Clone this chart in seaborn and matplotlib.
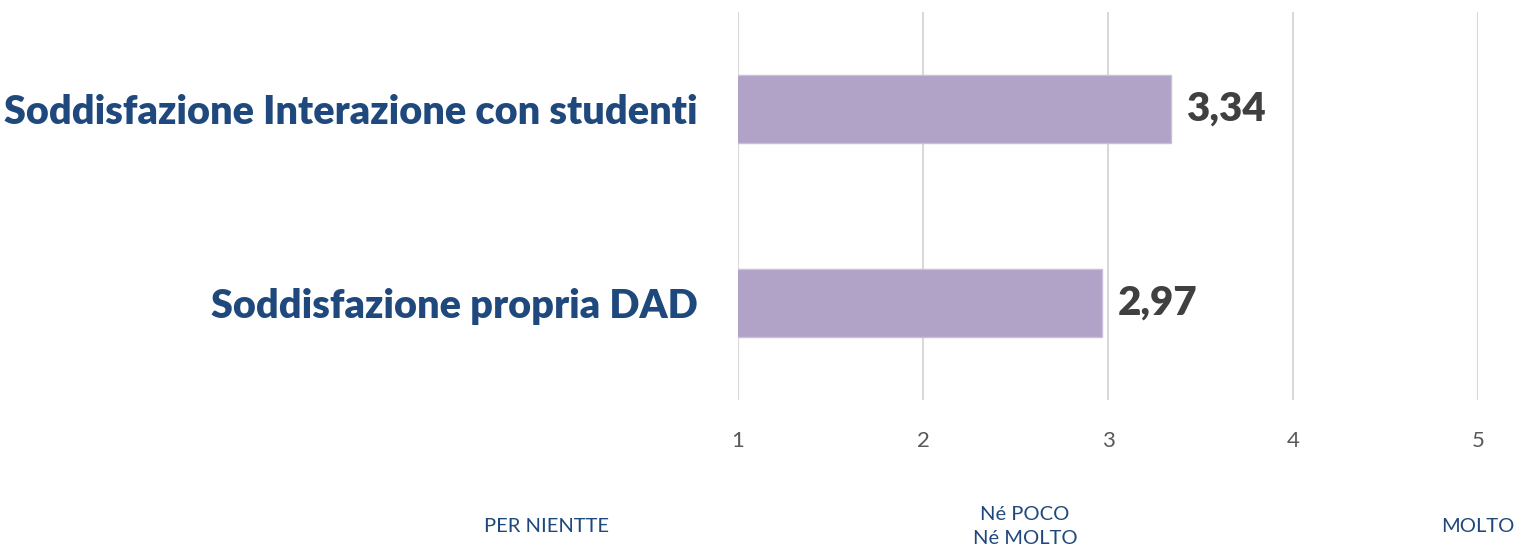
import matplotlib
matplotlib.use("Agg")
import matplotlib.pyplot as plt
import pandas as pd
import seaborn as sns

# Dati
categorie = ['Soddisfazione Interazione con studenti', 'Soddisfazione propria DAD']
valori = [3.34, 2.97]
etichette_valori = ['3,34', '2,97']
tick_x = [1, 2, 3, 4, 5]
etichette_scala = ['PER NIENTTE', 'Né POCO\nNé MOLTO', 'MOLTO']

df = pd.DataFrame({'categoria': categorie, 'valore': valori})

sns.set_style('white')
plt.rcParams['font.family'] = ['Lato', 'DejaVu Sans']

fig = plt.figure(figsize=(15.14, 5.52), dpi=100)
ax = fig.add_axes([0.4875, 0.2754, 0.4887, 0.7028])

sns.barplot(data=df, x='valore', y='categoria', orient='h', color='#B1A2C7',
            saturation=1, width=0.35, edgecolor='#C9BEDB', linewidth=1, ax=ax)

ax.set_xlim(1, 5)
ax.set_ylim(1.5, -0.5)
ax.set_xticks(tick_x)
ax.set_xticklabels([str(t) for t in tick_x], fontsize=16, color='#595959')
ax.tick_params(axis='x', length=0, pad=22)
ax.tick_params(axis='y', length=0, pad=29)
for lab in ax.get_yticklabels():
    lab.set_fontsize(28.5)
    lab.set_fontweight('heavy')
    lab.set_color('#1F497D')
ax.grid(axis='x', color='#D9D9D9', linewidth=1.5)
ax.set_axisbelow(True)
for s in ax.spines.values():
    s.set_visible(False)
ax.set_xlabel('')
ax.set_ylabel('')

# Etichette dei valori
for i, (v, t) in enumerate(zip(valori, etichette_valori)):
    ax.text(v + 0.08, i, t, va='center', ha='left', fontsize=29,
            fontweight='heavy', color='#404040')

# Scala sotto il grafico
fig.text(546 / 1514, 1 - 527 / 552, etichette_scala[0], ha='center', va='center',
         fontsize=14.5, color='#1F497D')
fig.text(1025 / 1514, 1 - 527 / 552, etichette_scala[1], ha='center', va='center',
         fontsize=14.5, color='#1F497D', linespacing=1.5)
fig.text(1478 / 1514, 1 - 527 / 552, etichette_scala[2], ha='center', va='center',
         fontsize=14.5, color='#1F497D')

fig.savefig('out.png', dpi=100)
